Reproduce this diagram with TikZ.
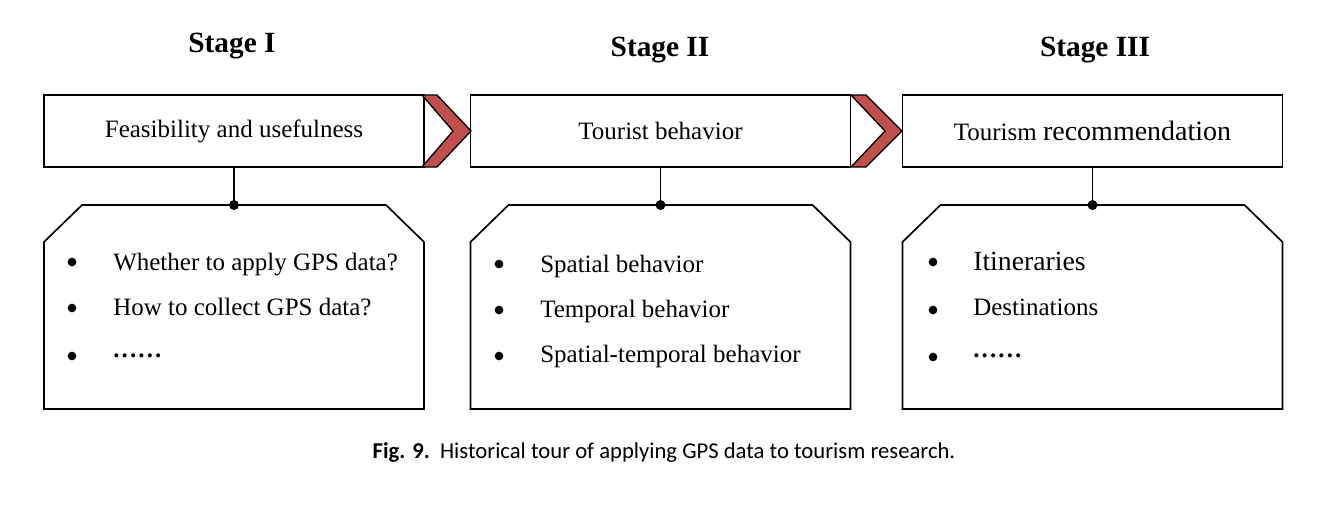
\documentclass[tikz,border=0pt]{standalone}
\usepackage{fontspec}
\setmainfont{Liberation Serif}
\newfontfamily\capfont{Carlito}
\usetikzlibrary{calc}
\definecolor{chev}{HTML}{C0504D}
\newcommand\chamferbox[1]{\draw[outline] ($(#1.north west)+(0,37)$) -- ($(#1.north west)+(38,0)$) -- ($(#1.north east)+(-38,0)$) -- ($(#1.north east)+(0,37)$) -- (#1.south east) -- (#1.south west) -- cycle;}
\begin{document}
\begin{tikzpicture}[x=0.75pt,y=-0.75pt,
 topbox/.style={draw,line width=1.25pt,minimum width=285pt,minimum height=54pt,inner sep=0pt,outer sep=0pt,font=\fontsize{18.75}{22}\selectfont},
 lowbox/.style={minimum width=285pt,minimum height=153pt,inner sep=0pt,outer sep=0pt},
 outline/.style={draw,line width=1.25pt,line join=miter},
 chevron/.style={draw,line width=1pt,fill=chev,line join=miter},
 stagelabel/.style={font=\bfseries\fontsize{22}{26}\selectfont,inner sep=0pt,anchor=base},
 itemtext/.style={anchor=base west,inner sep=0pt,font=\fontsize{18.75}{22}\selectfont},
 bul/.style={circle,fill,inner sep=0pt,minimum size=6.5pt},
 joint/.style={circle,fill,inner sep=0pt,minimum size=7.5pt},
 link/.style={line width=1.3pt}]
\path[use as bounding box,fill=white] (0,0) rectangle (1344,517);

% stage labels
\node[stagelabel] (s1) at (232,53) {Stage I};
\node[stagelabel] (s2) at (660,56) {Stage II};
\node[stagelabel] (s3) at (1095,56) {Stage III};

% top boxes
\node[topbox] (a1) at (234,131) {Feasibility and usefulness};
\node[topbox] (a2) at (660.5,131) {Tourist behavior};
\node[topbox] (a3) at (1092.5,131) {Tourism {\fontsize{21}{24}\selectfont recommendation}};

% chevrons
\draw[chevron] (422,95) -- (437,95) -- (471,131) -- (437,167) -- (422,167) -- (453,131) -- cycle;
\draw[chevron] (851,95) -- (866,95) -- (902,131) -- (866,167) -- (851,167) -- (885,131) -- cycle;

% lower boxes
\node[lowbox] (b1) at (234,307) {};
\node[lowbox] (b2) at (660.5,307) {};
\node[lowbox] (b3) at (1092.5,307) {};
\chamferbox{b1}
\chamferbox{b2}
\chamferbox{b3}

% connectors
\node[joint] (j1) at (b1.north) {};
\node[joint] (j2) at (b2.north) {};
\node[joint] (j3) at (b3.north) {};
\draw[link] (a1.south) -- (j1.center);
\draw[link] (a2.south) -- (j2.center);
\draw[link] (a3.south) -- (j3.center);

% box 1 items
\node[bul] (d11) at (72,262) {};
\node[bul] (d12) at (72,308) {};
\node[bul] (d13) at (72,356) {};
\node[itemtext] (t11) at (113,270) {Whether to apply GPS data?};
\node[itemtext] (t12) at (113,315) {How to collect GPS data?};
\node[itemtext] (t13) at (113,357) {\textbf{.\kern1.6pt.\kern1.6pt.\kern1.6pt.\kern1.6pt.\kern1.6pt.}};

% box 2 items
\node[bul] (d21) at (499,264) {};
\node[bul] (d22) at (499,310) {};
\node[bul] (d23) at (499,356) {};
\node[itemtext] (t21) at (540,272) {Spatial behavior};
\node[itemtext] (t22) at (540,317) {Temporal behavior};
\node[itemtext] (t23) at (540,362) {Spatial-temporal behavior};

% box 3 items
\node[bul] (d31) at (933,262) {};
\node[bul] (d32) at (933,310) {};
\node[bul] (d33) at (933,357) {};
\node[itemtext,font=\fontsize{20.8}{24}\selectfont] (t31) at (973,270) {Itineraries};
\node[itemtext] (t32) at (973,315) {Destinations};
\node[itemtext] (t33) at (973,357) {\textbf{.\kern1.6pt.\kern1.6pt.\kern1.6pt.\kern1.6pt.\kern1.6pt.}};

% caption
\node[anchor=base,inner sep=0pt,font=\capfont\fontsize{17}{20}\selectfont] (cap) at (664,458) {\textbf{Fig. 9.}\ \ Historical tour of applying GPS data to tourism research.};
\end{tikzpicture}
\end{document}
